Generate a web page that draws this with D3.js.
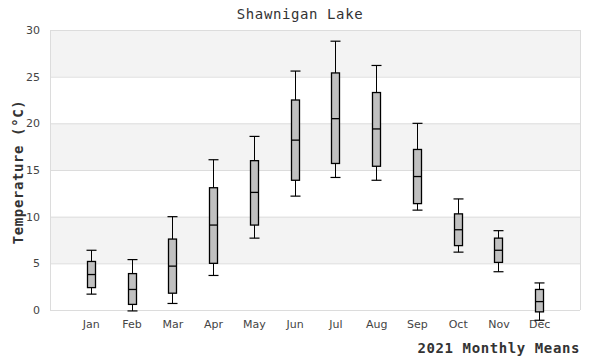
<html lang="en">
  <head>
    <meta charset="utf-8">
    <title>Shawnigan Lake</title>
    <script src="https://d3js.org/d3.v7.min.js"></script>
    <style>
      body { margin: 0; background: #fff; }
      .mono { font-family: "DejaVu Sans Mono", monospace; fill: #333; }
    </style>
  </head>
  <body>
    <script type="text/javascript">
      var w = 600;
      var h = 360;
      var margin = {top: 30, right: 20, bottom: 50, left: 50};
      var innerWidth = w - margin.left - margin.right;
      var innerHeight = h - margin.top - margin.bottom;

      var months = ["Jan","Feb","Mar","Apr","May","Jun","Jul","Aug","Sep","Oct","Nov","Dec"];
      var mins    = [1.7, -0.1, 0.7, 3.7, 7.7, 12.2, 14.2, 13.9, 10.7, 6.2, 4.1, -1.1];
      var q1s     = [2.4, 0.6, 1.8, 5.0, 9.1, 13.9, 15.7, 15.4, 11.4, 6.9, 5.1, -0.2];
      var medians = [3.8, 2.2, 4.7, 9.1, 12.6, 18.2, 20.5, 19.4, 14.3, 8.6, 6.4, 0.9];
      var q3s     = [5.2, 3.9, 7.6, 13.1, 16.0, 22.5, 25.4, 23.3, 17.2, 10.3, 7.7, 2.2];
      var maxs    = [6.4, 5.4, 10.0, 16.1, 18.6, 25.6, 28.8, 26.2, 20.0, 11.9, 8.5, 2.9];
      var yTicks = [0, 5, 10, 15, 20, 25, 30];

      var dataset = months.map(function(m, i) {
        return {month: m, min: mins[i], q1: q1s[i], median: medians[i], q3: q3s[i], max: maxs[i]};
      });

      var xScale = d3.scalePoint()
          .domain(months)
          .range([0, innerWidth])
          .padding(1);
      var yScale = d3.scaleLinear()
          .domain([0, 30])
          .range([innerHeight, 0]);

      var svg = d3.select("body")
          .append("svg")
          .attr("width", w)
          .attr("height", h);

      var g = svg.append("g")
          .attr("transform", `translate(${margin.left},${margin.top})`);

      // alternating bands
      var bands = d3.pairs(yTicks);
      g.selectAll("rect.band")
          .data(bands)
          .enter()
          .append("rect")
          .attr("class", "band")
          .attr("x", 0)
          .attr("width", innerWidth)
          .attr("y", function(d) { return yScale(d[1]); })
          .attr("height", function(d) { return yScale(d[0]) - yScale(d[1]); })
          .attr("fill", function(d, i) { return i % 2 ? "#f3f3f3" : "#fff"; });

      // grid lines
      g.selectAll("line.grid")
          .data(yTicks)
          .enter()
          .append("line")
          .attr("x1", 0)
          .attr("x2", innerWidth)
          .attr("y1", function(d) { return yScale(d) + 0.5; })
          .attr("y2", function(d) { return yScale(d) + 0.5; })
          .attr("stroke", "#dcdcdc");

      // frame left/right
      g.append("line").attr("x1", 0.5).attr("x2", 0.5).attr("y1", 0).attr("y2", innerHeight).attr("stroke", "#dcdcdc");
      g.append("line").attr("x1", innerWidth + 0.5).attr("x2", innerWidth + 0.5).attr("y1", 0).attr("y2", innerHeight).attr("stroke", "#dcdcdc");

      var yAxis = d3.axisLeft(yScale).tickValues(yTicks).tickSize(0).tickPadding(10);
      var xAxis = d3.axisBottom(xScale).tickSize(0).tickPadding(10);

      g.append("g")
          .call(yAxis)
          .call(function(s) { s.select(".domain").remove(); })
          .selectAll("text")
          .attr("font-family", "DejaVu Sans, sans-serif")
          .attr("font-size", 11)
          .attr("fill", "#444");
      g.append("g")
          .attr("transform", `translate(0,${innerHeight})`)
          .call(xAxis)
          .call(function(s) { s.select(".domain").remove(); })
          .selectAll("text")
          .attr("font-family", "DejaVu Sans, sans-serif")
          .attr("font-size", 11)
          .attr("fill", "#444");

      // boxes
      var boxW = 8, capW = 10;
      var box = g.selectAll("g.box")
          .data(dataset)
          .enter()
          .append("g")
          .attr("class", "box")
          .attr("transform", function(d) { return `translate(${Math.round(xScale(d.month)) + 0.5},0)`; });

      box.append("line")
          .attr("y1", function(d) { return yScale(d.max); })
          .attr("y2", function(d) { return yScale(d.min); })
          .attr("stroke", "#000");
      box.append("rect")
          .attr("x", -boxW / 2)
          .attr("width", boxW)
          .attr("y", function(d) { return yScale(d.q3); })
          .attr("height", function(d) { return yScale(d.q1) - yScale(d.q3); })
          .attr("fill", "#c0c0c0")
          .attr("stroke", "#000")
          .attr("stroke-width", 1.3);
      box.append("line")
          .attr("x1", -boxW / 2).attr("x2", boxW / 2)
          .attr("y1", function(d) { return yScale(d.median); })
          .attr("y2", function(d) { return yScale(d.median); })
          .attr("stroke", "#000").attr("stroke-width", 1.3);
      ["min", "max"].forEach(function(k) {
        box.append("line")
            .attr("x1", -capW / 2).attr("x2", capW / 2)
            .attr("y1", function(d) { return yScale(d[k]); })
            .attr("y2", function(d) { return yScale(d[k]); })
            .attr("stroke", "#000").attr("stroke-width", 1.2);
      });

      // titles
      svg.append("text")
          .attr("class", "mono")
          .attr("x", w / 2)
          .attr("y", 19)
          .attr("text-anchor", "middle")
          .attr("font-size", 14)
          .attr("letter-spacing", 0.6)
          .text("Shawnigan Lake");
      svg.append("text")
          .attr("class", "mono")
          .attr("x", margin.left + innerWidth)
          .attr("y", 353)
          .attr("text-anchor", "end")
          .attr("font-size", 14)
          .attr("font-weight", "bold")
          .attr("letter-spacing", 0.6)
          .text("2021 Monthly Means");
      svg.append("text")
          .attr("class", "mono")
          .attr("transform", `translate(23,${margin.top + 142}) rotate(-90)`)
          .attr("text-anchor", "middle")
          .attr("font-size", 14)
          .attr("font-weight", "bold")
          .attr("letter-spacing", 0.6)
          .text("Temperature (°C)");
    </script>
  </body>
</html>
